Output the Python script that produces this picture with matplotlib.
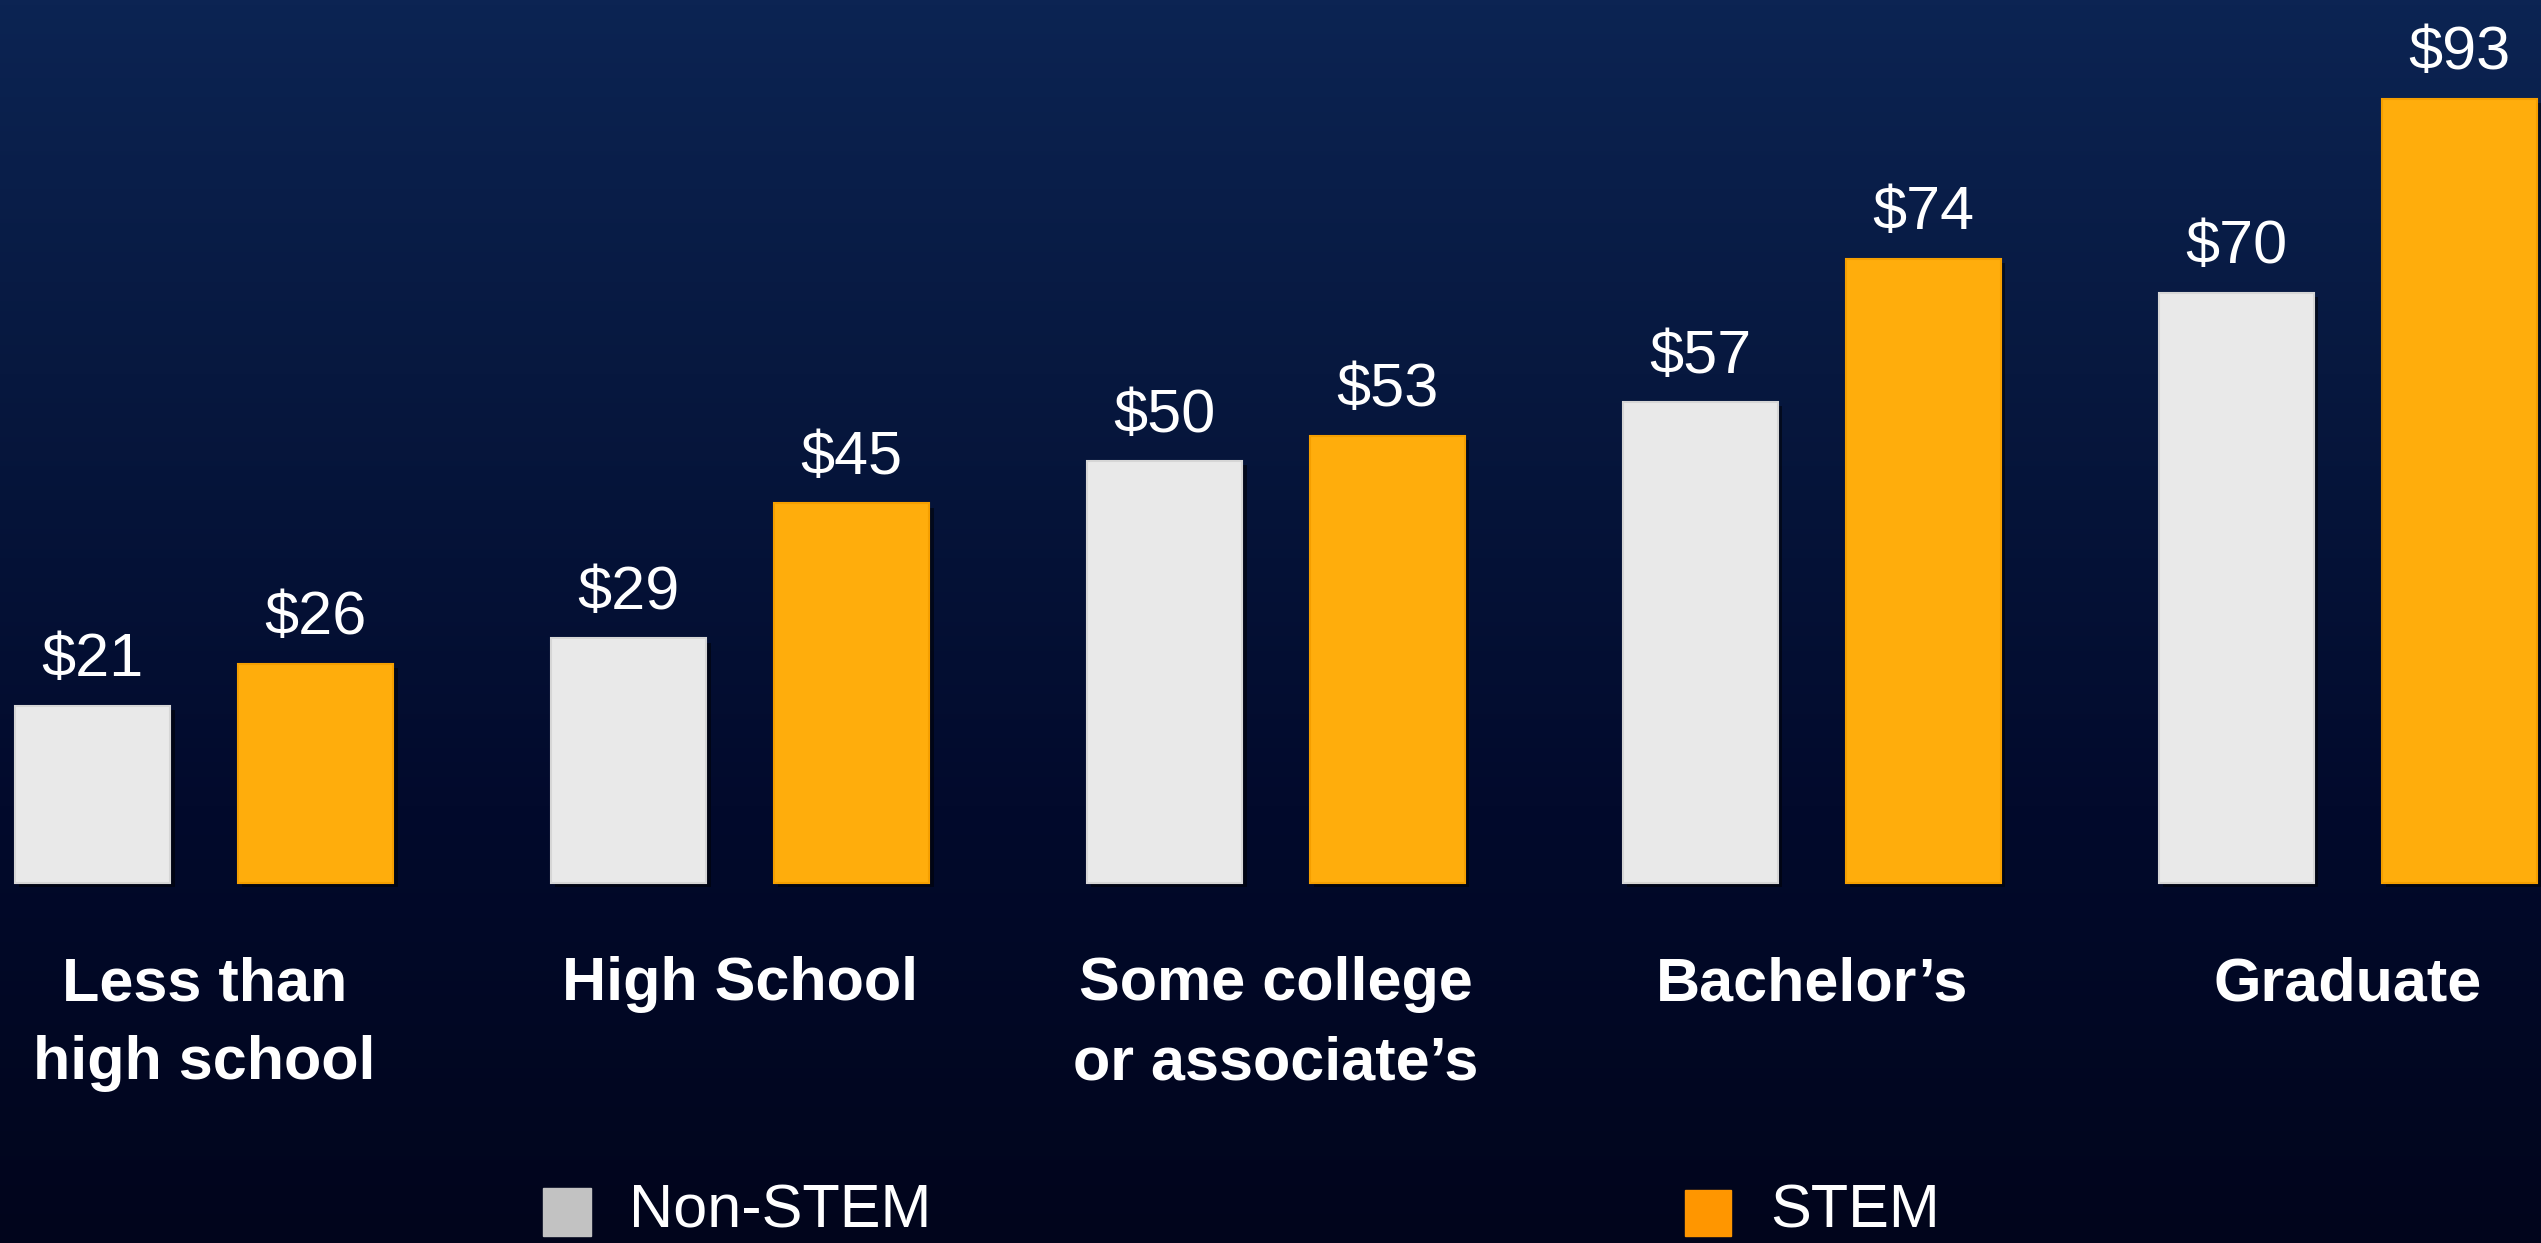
import matplotlib.pyplot as plt
import matplotlib.patheffects as pe
import numpy as np
from matplotlib.colors import LinearSegmentedColormap
from matplotlib.patches import Rectangle

plt.rcParams['font.family'] = ['Liberation Sans', 'DejaVu Sans']

# data
categories = ['Less than\nhigh school', 'High School', 'Some college\nor associate\u2019s',
              'Bachelor\u2019s', 'Graduate']
non_stem = [21, 29, 50, 57, 70]
stem = [26, 45, 53, 74, 93]
series_names = ['Non-STEM', 'STEM']

white = '#e9e9e9'
orange = '#ffad0c'

fig = plt.figure(figsize=(25.41, 12.43), dpi=100)

# background gradient
bg = fig.add_axes([0, 0, 1, 1], zorder=0)
cmap = LinearSegmentedColormap.from_list(
    'bg', [(0, '#01051c'), (0.35, '#020a2c'), (0.7, '#07183f'), (1, '#0c2453')])
grad = np.linspace(0, 1, 256).reshape(-1, 1)
bg.imshow(grad, aspect='auto', cmap=cmap, origin='lower', extent=[0, 1, 0, 1])
bg.axis('off')

ax = fig.add_axes([0, 0, 1, 1], zorder=1)
ax.patch.set_alpha(0)
ax.axis('off')
ax.set_xlim(-0.381, 4.36)
ax.set_ylim(-42.7, 104.7)

x = np.arange(len(categories))
w = 0.29
off = 0.208
shadow = [pe.withSimplePatchShadow(offset=(3, -3), shadow_rgbFace='black', alpha=0.5)]
b1 = ax.bar(x - off, non_stem, w, color=white, edgecolor='#d6d6d6', linewidth=1.5,
            path_effects=shadow)
b2 = ax.bar(x + off, stem, w, color=orange, edgecolor='#f59f00', linewidth=1.5,
            path_effects=shadow)

# value labels
for bars, vals in [(b1, non_stem), (b2, stem)]:
    for r, v in zip(bars, vals):
        ax.annotate(f'${v}', (r.get_x() + r.get_width() / 2, v),
                    xytext=(0, 12), textcoords='offset points',
                    ha='center', va='bottom', fontsize=44, color='white')

# category labels
for xi, c in zip(x, categories):
    ax.text(xi, -8.7, c, ha='center', va='top', fontsize=44, fontweight='bold',
            color='white', linespacing=1.5)

# legend
fig.patches.append(Rectangle((0.2137, 0.0056), 0.0189, 0.0386, transform=fig.transFigure,
                             color='#c2c2c2', zorder=3))
fig.text(0.2475, 0.025, series_names[0], fontsize=44, color='white', va='center', ha='left')
fig.patches.append(Rectangle((0.6631, 0.0056), 0.018, 0.0370, transform=fig.transFigure,
                             color='#ff9600', zorder=3))
fig.text(0.6966, 0.025, series_names[1], fontsize=44, color='white', va='center', ha='left')

fig.savefig('out.png', dpi=100)
